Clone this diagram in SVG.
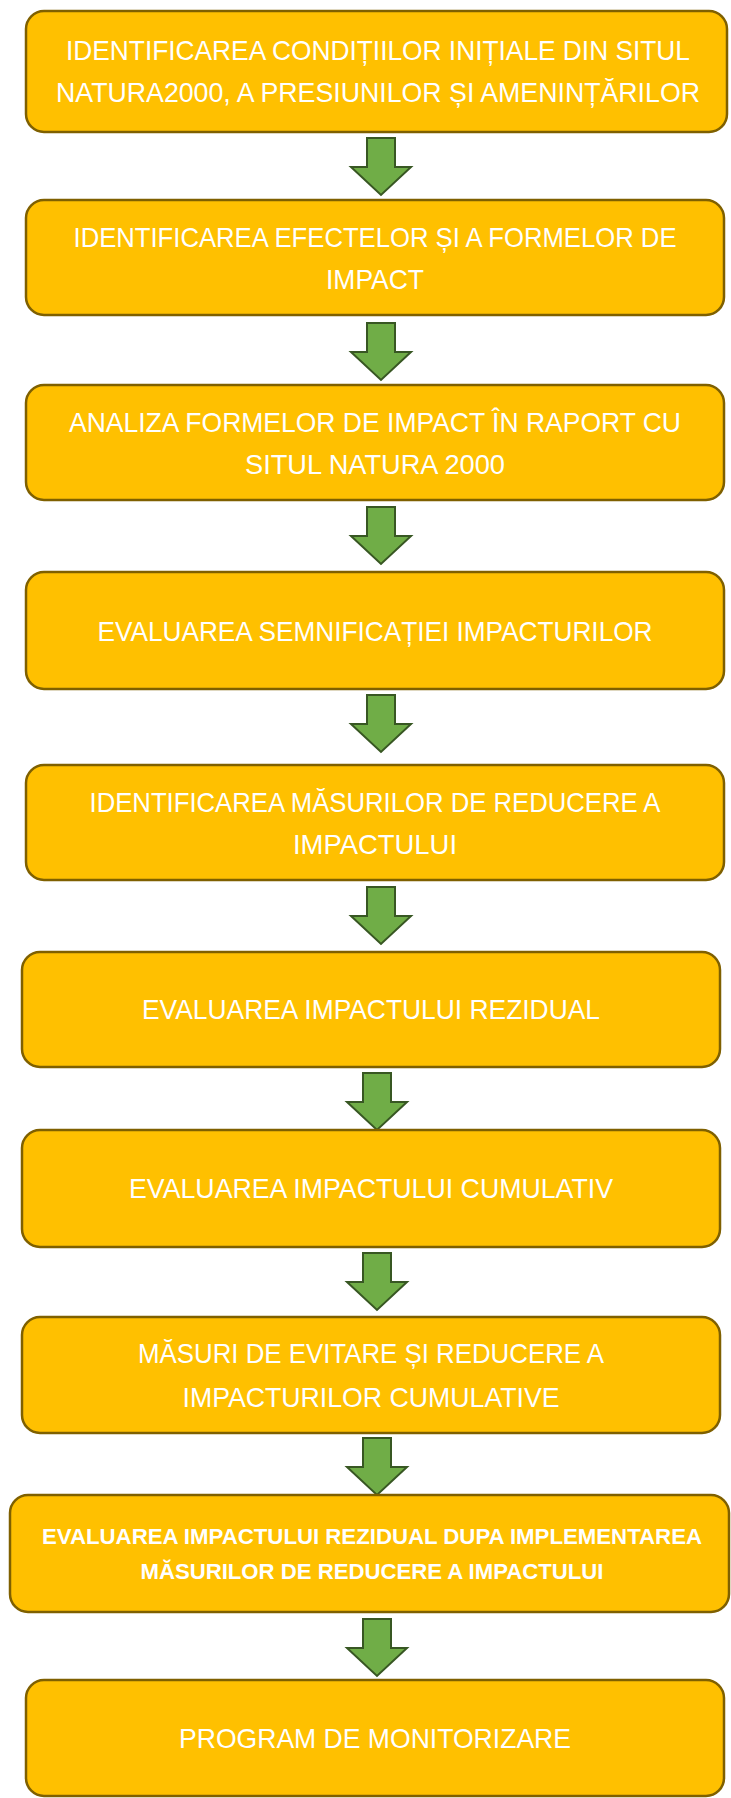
<svg xmlns="http://www.w3.org/2000/svg" width="731" height="1798" viewBox="0 0 731 1798">
<style>
.box{fill:#FFC000;stroke:#7F6000;stroke-width:2.5}
.arr{fill:#70AD47;stroke:#385723;stroke-width:2;stroke-linejoin:miter}
.t{font-family:"Liberation Sans",Arial,sans-serif;font-size:28px;fill:#FFFFFF;text-anchor:middle}
.b{font-family:"Liberation Sans",Arial,sans-serif;font-size:22px;font-weight:bold;fill:#FFFFFF;text-anchor:middle}
</style>
<defs>
<path id="ar" d="M-14,0 H14 V29 H30 L0,57 L-30,29 H-14 Z"/>
</defs>
<g id="connectors">
<use href="#ar" class="arr" x="381" y="138"/>
<use href="#ar" class="arr" x="381" y="323"/>
<use href="#ar" class="arr" x="381" y="507"/>
<use href="#ar" class="arr" x="381" y="695"/>
<use href="#ar" class="arr" x="381" y="887"/>
<use href="#ar" class="arr" x="377" y="1073"/>
<use href="#ar" class="arr" x="377" y="1253"/>
<use href="#ar" class="arr" x="377" y="1438"/>
<use href="#ar" class="arr" x="377" y="1619"/>
</g>
<g id="n1">
<rect class="box" x="26" y="11" width="701" height="121" rx="18"/>
<text class="t" x="378" y="60" textLength="624" lengthAdjust="spacingAndGlyphs">IDENTIFICAREA CONDIȚIILOR INIȚIALE DIN SITUL</text>
<text class="t" x="378" y="102" textLength="644" lengthAdjust="spacingAndGlyphs">NATURA2000, A PRESIUNILOR ȘI AMENINȚĂRILOR</text>
</g>
<g id="n2">
<rect class="box" x="26" y="200" width="698" height="115" rx="18"/>
<text class="t" x="375" y="247" textLength="603" lengthAdjust="spacingAndGlyphs">IDENTIFICAREA EFECTELOR ȘI A FORMELOR DE</text>
<text class="t" x="375" y="289" textLength="98" lengthAdjust="spacingAndGlyphs">IMPACT</text>
</g>
<g id="n3">
<rect class="box" x="26" y="385" width="698" height="115" rx="18"/>
<text class="t" x="375" y="432" textLength="612" lengthAdjust="spacingAndGlyphs">ANALIZA FORMELOR DE IMPACT ÎN RAPORT CU</text>
<text class="t" x="375" y="474" textLength="260" lengthAdjust="spacingAndGlyphs">SITUL NATURA 2000</text>
</g>
<g id="n4">
<rect class="box" x="26" y="572" width="698" height="117" rx="18"/>
<text class="t" x="375" y="641" textLength="555" lengthAdjust="spacingAndGlyphs">EVALUAREA SEMNIFICAȚIEI IMPACTURILOR</text>
</g>
<g id="n5">
<rect class="box" x="26" y="765" width="698" height="115" rx="18"/>
<text class="t" x="375" y="812" textLength="571" lengthAdjust="spacingAndGlyphs">IDENTIFICAREA MĂSURILOR DE REDUCERE A</text>
<text class="t" x="375" y="854" textLength="164" lengthAdjust="spacingAndGlyphs">IMPACTULUI</text>
</g>
<g id="n6">
<rect class="box" x="22" y="952" width="698" height="115" rx="18"/>
<text class="t" x="371" y="1019" textLength="458" lengthAdjust="spacingAndGlyphs">EVALUAREA IMPACTULUI REZIDUAL</text>
</g>
<g id="n7">
<rect class="box" x="22" y="1130" width="698" height="117" rx="18"/>
<text class="t" x="371" y="1198" textLength="484" lengthAdjust="spacingAndGlyphs">EVALUAREA IMPACTULUI CUMULATIV</text>
</g>
<g id="n8">
<rect class="box" x="22" y="1317" width="698" height="116" rx="18"/>
<text class="t" x="371" y="1363" textLength="466" lengthAdjust="spacingAndGlyphs">MĂSURI DE EVITARE ȘI REDUCERE A</text>
<text class="t" x="371" y="1407" textLength="377" lengthAdjust="spacingAndGlyphs">IMPACTURILOR CUMULATIVE</text>
</g>
<g id="n9">
<rect class="box" x="10" y="1495" width="719" height="117" rx="18"/>
<text class="b" x="372" y="1544" textLength="660" lengthAdjust="spacingAndGlyphs">EVALUAREA IMPACTULUI REZIDUAL DUPA IMPLEMENTAREA</text>
<text class="b" x="372" y="1579" textLength="463" lengthAdjust="spacingAndGlyphs">MĂSURILOR DE REDUCERE A IMPACTULUI</text>
</g>
<g id="n10">
<rect class="box" x="26" y="1680" width="698" height="116" rx="18"/>
<text class="t" x="375" y="1748" textLength="392" lengthAdjust="spacingAndGlyphs">PROGRAM DE MONITORIZARE</text>
</g>
</svg>
